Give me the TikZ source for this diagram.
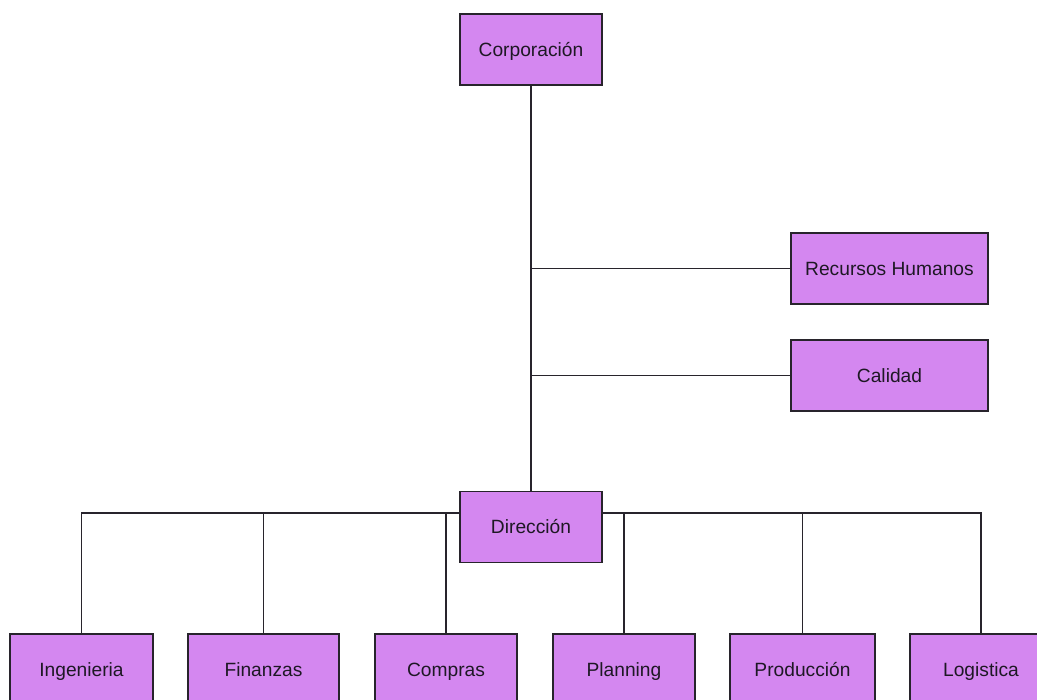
\documentclass[tikz,border=0pt]{standalone}
\usepackage{fontspec}
\setmainfont{Liberation Sans}
\usetikzlibrary{backgrounds}
\definecolor{boxfill}{RGB}{212,135,240}
\definecolor{edge}{RGB}{40,36,44}
\definecolor{ink}{RGB}{30,24,36}
\begin{document}
\begin{tikzpicture}[x=1pt,y=-1pt,
  unit/.style={draw=edge, fill=boxfill, line width=1.3pt, text=ink,
    minimum height=71pt, inner sep=0pt, text height=13.6pt, text depth=0pt,
    font=\fontsize{19.2}{22}\selectfont},
  link/.style={draw=edge, line width=1.3pt}]
\useasboundingbox (0,0) rectangle (1037,700);
% top of the hierarchy
\node[unit, minimum width=142pt] (corp) at (531,49.5) {Corporación};
% staff units on the right
\node[unit, minimum width=197pt] (rh)  at (889.5,268.5) {Recursos Humanos};
\node[unit, minimum width=197pt] (cal) at (889.5,375.5) {Calidad};
% management
\node[unit, minimum width=142pt] (dir) at (531,527) {Dirección};
% departments
\node[unit, minimum width=143pt] (ing)  at (81.5,669.5)  {Ingenieria};
\node[unit, minimum width=151pt] (fin)  at (263.5,669.5) {Finanzas};
\node[unit, minimum width=142pt] (comp) at (446,669.5)   {Compras};
\node[unit, minimum width=142pt] (plan) at (624,669.5)   {Planning};
\node[unit, minimum width=145pt] (prod) at (802.5,669.5) {Producción};
\node[unit, minimum width=142pt] (log)  at (981,669.5)   {Logistica};
\coordinate (bus) at (531,513);
\begin{scope}[on background layer]
  \draw[link] (corp.south) -- (dir.north);
  \draw[link] (corp.south) |- (rh.west);
  \draw[link] (corp.south) |- (cal.west);
  \foreach \d in {ing,fin,comp,plan,prod,log}
    \draw[link] (\d.north) |- (bus);
\end{scope}
\end{tikzpicture}
\end{document}
